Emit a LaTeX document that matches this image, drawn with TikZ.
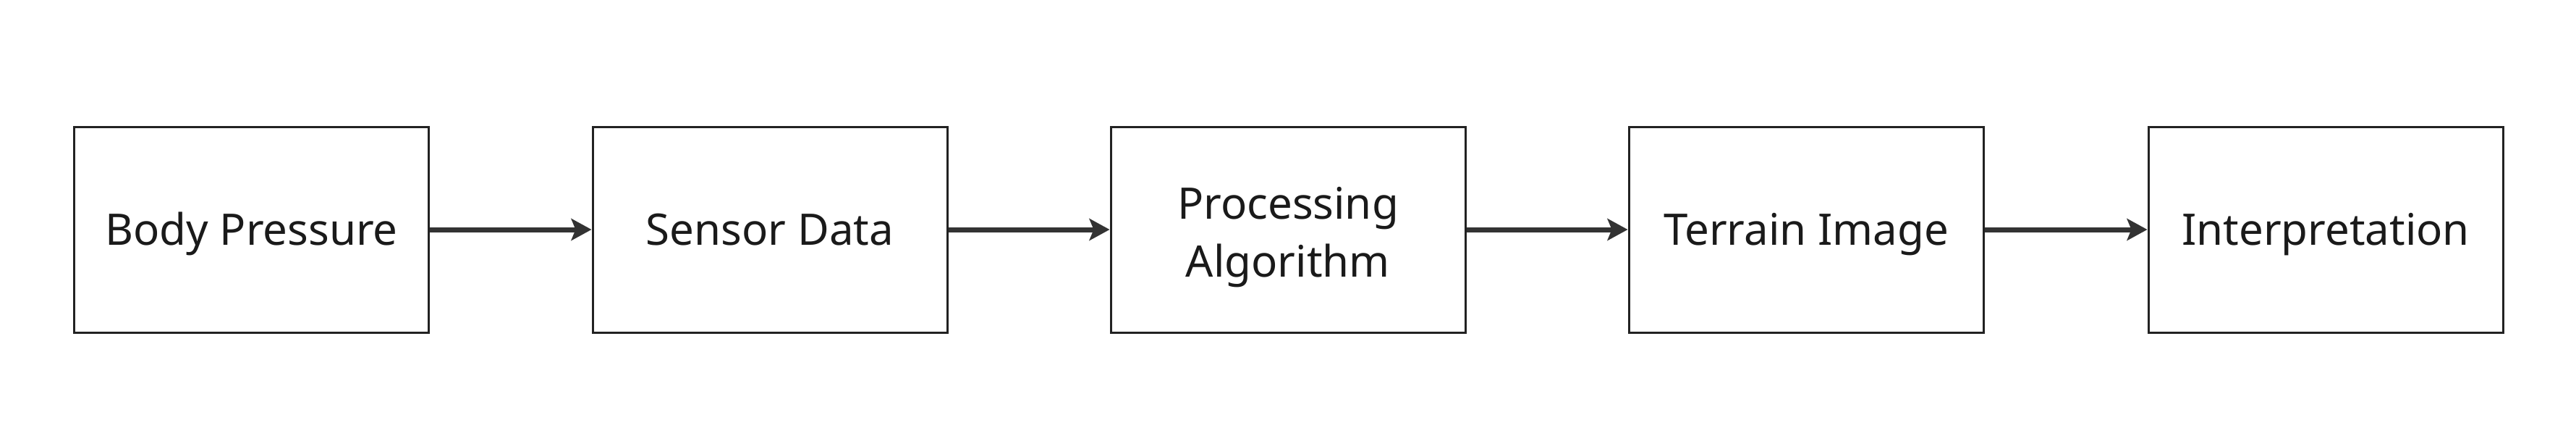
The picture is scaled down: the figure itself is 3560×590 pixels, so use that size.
\documentclass[tikz,border=0pt]{standalone}
\usepackage{fontspec}
\setmainfont{Noto Sans}
\usetikzlibrary{arrows.meta}
\definecolor{boxline}{HTML}{222222}
\definecolor{arrowc}{HTML}{333333}
\definecolor{txt}{HTML}{1A1A1A}
\begin{document}
\begin{tikzpicture}[x=1pt,y=-1pt,
  stepbox/.style={draw=boxline,line width=3pt,minimum width=490pt,minimum height=284pt,
    inner sep=0pt,align=center,text=txt,font=\fontsize{60pt}{80pt}\selectfont,
    text height=43pt,text depth=0pt},
  flow/.style={draw=arrowc,line width=7pt,-{Stealth[length=28pt,width=30pt,inset=6pt]}}]
\useasboundingbox[fill=white] (0,0) rectangle (3560,590);
\node[stepbox] (a) at (347.5,317) {Body Pressure};
\node[stepbox] (b) at (1064,317) {Sensor Data};
\node[stepbox,text height=144pt,text depth=14pt] (c) at (1780,317) {Processing\\Algorithm};
\node[stepbox] (d) at (2496,317) {Terrain Image};
\node[stepbox] (e) at (3214,317) {Interpretation};
\draw[flow] (a) -- (b);
\draw[flow] (b) -- (c);
\draw[flow] (c) -- (d);
\draw[flow] (d) -- (e);
\end{tikzpicture}
\end{document}
